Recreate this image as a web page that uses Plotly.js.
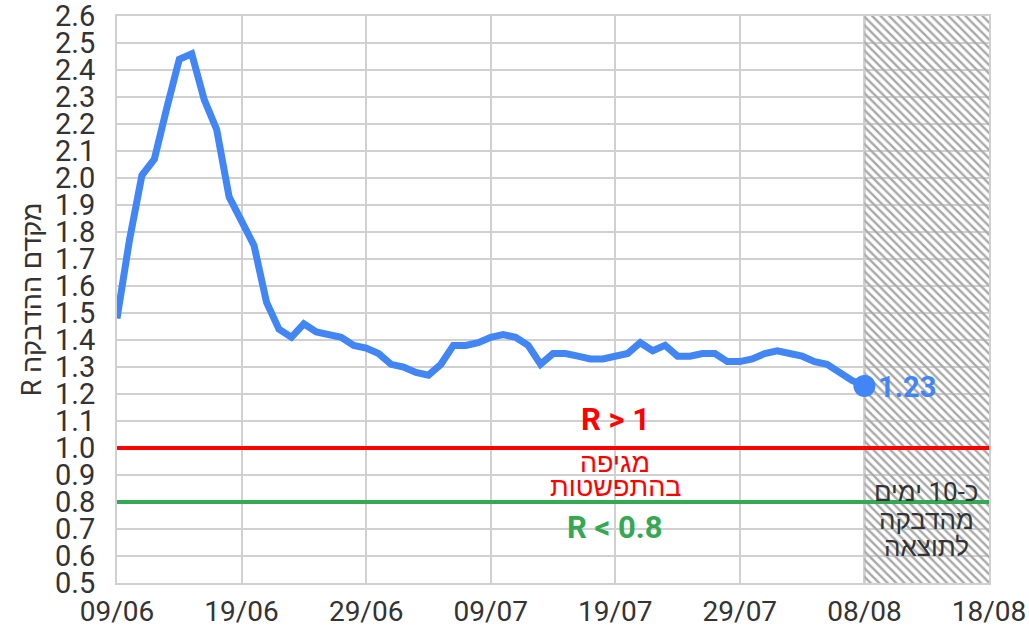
<!DOCTYPE html>
<html>
<head>
<meta charset="utf-8">
<script src="https://cdn.plot.ly/plotly-3.0.1.min.js"></script>
<style>html,body{margin:0;padding:0;background:#fff;}#chart{width:1029px;height:628px;}</style>
</head>
<body>
<div id="chart"></div>
<script>
// ---- data ----
const startDate = '2020-06-09';
const rValues = [1.48, 1.77, 2.01, 2.07, 2.26, 2.44, 2.46, 2.29, 2.18, 1.93,
                 1.84, 1.75, 1.54, 1.44, 1.41, 1.46, 1.43, 1.42, 1.41, 1.38,
                 1.37, 1.35, 1.31, 1.30, 1.28, 1.27, 1.31, 1.38, 1.38, 1.39,
                 1.41, 1.42, 1.41, 1.38, 1.31, 1.35, 1.35, 1.34, 1.33, 1.33,
                 1.34, 1.35, 1.39, 1.36, 1.38, 1.34, 1.34, 1.35, 1.35, 1.32,
                 1.32, 1.33, 1.35, 1.36, 1.35, 1.34, 1.32, 1.31, 1.28, 1.25,
                 1.23];
const tickDates  = ['2020-06-09','2020-06-19','2020-06-29','2020-07-09','2020-07-19','2020-07-29','2020-08-08','2020-08-18'];
const tickLabels = ['09/06','19/06','29/06','09/07','19/07','29/07','08/08','18/08'];
const yTickVals  = [0.5,0.6,0.7,0.8,0.9,1.0,1.1,1.2,1.3,1.4,1.5,1.6,1.7,1.8,1.9,2.0,2.1,2.2,2.3,2.4,2.5,2.6];
const epidemicThreshold = 1.0;
const controlThreshold = 0.8;
const lagStart = '2020-08-08';
const lagEnd = '2020-08-18';
const yRange = [0.5, 2.6];

// daily dates
const dates = [];
(function(){
  const d0 = new Date(startDate + 'T00:00:00Z');
  for (let i = 0; i < rValues.length; i++) {
    const d = new Date(d0.getTime() + i * 86400000);
    dates.push(d.toISOString().slice(0,10));
  }
})();
const lastDate = dates[dates.length-1];
const lastVal = rValues[rValues.length-1];

const FONT = "Roboto, 'Liberation Sans', Arial, sans-serif";
const BLUE = '#4285F4', RED = '#FF0000', GREEN = '#34A853';

const traces = [
  { // hatched lag region
    x: [lagStart, lagEnd, lagEnd, lagStart, lagStart],
    y: [yRange[0], yRange[0], yRange[1], yRange[1], yRange[0]],
    mode: 'lines', fill: 'toself', line: {width: 0, color: 'rgba(0,0,0,0)'},
    fillcolor: 'rgba(0,0,0,0)',
    fillpattern: {shape: '\\', fgcolor: '#a8a8a8', size: 6, solidity: 0.4},
    hoverinfo: 'skip', showlegend: false
  },
  {
    x: [tickDates[0], tickDates[tickDates.length-1]], y: [epidemicThreshold, epidemicThreshold],
    mode: 'lines', line: {color: RED, width: 4}, hoverinfo: 'skip', showlegend: false
  },
  {
    x: [tickDates[0], tickDates[tickDates.length-1]], y: [controlThreshold, controlThreshold],
    mode: 'lines', line: {color: GREEN, width: 4}, hoverinfo: 'skip', showlegend: false
  },
  {
    x: dates, y: rValues, mode: 'lines', line: {color: BLUE, width: 7}, showlegend: false
  },
  {
    x: [lastDate], y: [lastVal], mode: 'markers', marker: {color: BLUE, size: 22}, showlegend: false
  }
];

const layout = {
  width: 1029, height: 628,
  margin: {l: 117, r: 40, t: 16, b: 45},
  paper_bgcolor: '#fff', plot_bgcolor: '#fff',
  font: {family: FONT, color: '#333'},
  showlegend: false,
  xaxis: {
    type: 'date', range: [tickDates[0], tickDates[tickDates.length-1]],
    tickvals: tickDates, ticktext: tickLabels,
    showgrid: true, gridcolor: '#d0d0d0', gridwidth: 2,
    showline: true, linecolor: '#d0d0d0', linewidth: 2, mirror: true,
    zeroline: false, ticks: '', ticklabelstandoff: 2, ticklabeloverflow: 'allow',
    tickfont: {family: FONT, size: 28, color: '#333'}
  },
  yaxis: {
    range: yRange, tickvals: yTickVals, ticktext: yTickVals.map(v => v.toFixed(1)),
    showgrid: true, gridcolor: '#d0d0d0', gridwidth: 2,
    showline: true, linecolor: '#d0d0d0', linewidth: 2, mirror: true,
    zeroline: false, ticks: '', ticklabelstandoff: 14, ticklabeloverflow: 'allow',
    tickfont: {family: FONT, size: 29, color: '#333'},
    title: {text: '\u202Bמקדם ההדבקה R\u202C', standoff: 6, font: {family: FONT, size: 27, color: '#333'}}
  },
  shapes: [
    {type: 'line', xref: 'x', yref: 'y', x0: lagStart, x1: lagStart, y0: yRange[0], y1: yRange[1],
     line: {color: '#999', width: 2}, layer: 'below'}
  ],
  annotations: [
    {x: '2020-07-19', y: 1.105, text: '<b>R &gt; 1</b>', showarrow: false,
     font: {family: FONT, size: 31, color: RED}},
    {x: '2020-07-19', y: 0.944, text: 'מגיפה', showarrow: false,
     font: {family: FONT, size: 27, color: RED}},
    {x: '2020-07-19', y: 0.856, text: 'בהתפשטות', showarrow: false,
     font: {family: FONT, size: 27, color: RED}},
    {x: '2020-07-19', y: 0.707, text: '<b>R &lt; 0.8</b>', showarrow: false,
     font: {family: FONT, size: 31, color: GREEN}},
    {x: lastDate, y: lastVal, text: '<b>' + lastVal.toFixed(2) + '</b>', showarrow: false,
     xanchor: 'left', xshift: 12, yshift: -1, font: {family: FONT, size: 29, color: BLUE}},
    {x: '2020-08-13', y: 0.838, text: 'כ-10 ימים', showarrow: false,
     font: {family: FONT, size: 26, color: '#333'}},
    {x: '2020-08-13', y: 0.732, text: 'מהדבקה', showarrow: false,
     font: {family: FONT, size: 26, color: '#333'}},
    {x: '2020-08-13', y: 0.632, text: 'לתוצאה', showarrow: false,
     font: {family: FONT, size: 26, color: '#333'}}
  ]
};

Plotly.newPlot('chart', traces, layout, {displayModeBar: false, staticPlot: true});
</script>
</body>
</html>
